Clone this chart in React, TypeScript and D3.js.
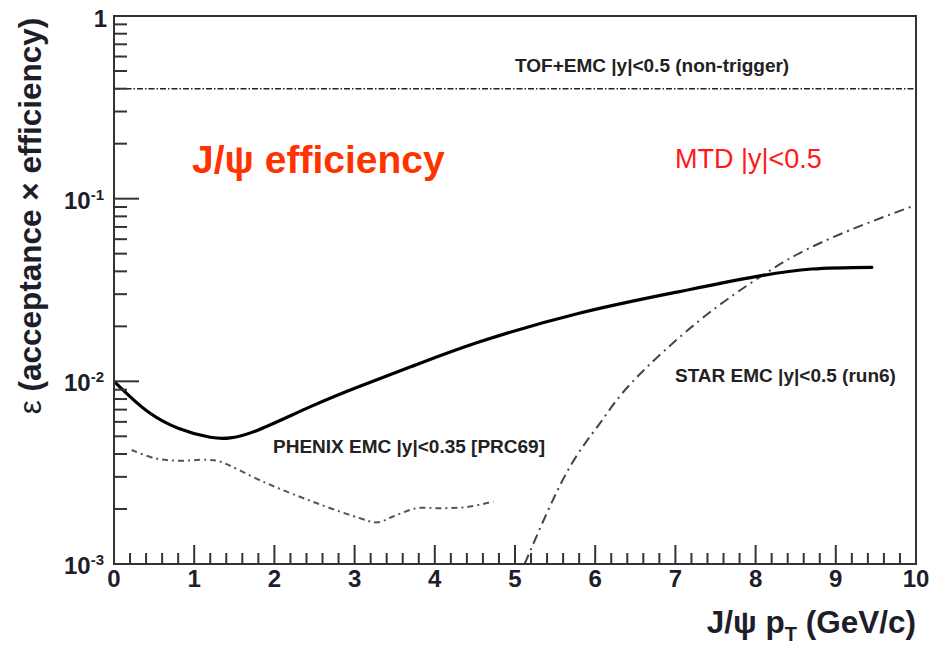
import React from "react";
import * as d3 from "d3";

// MTD |y|<0.5 efficiency vs pT
const mtdPt = [0, 0.2, 0.45, 0.8, 1.2, 1.45, 1.8, 2.45, 3.05, 3.7, 4.55, 5.8, 7.05, 8.0, 8.7, 9.45];
const mtdEff = [0.01, 0.00825, 0.00669, 0.00554, 0.00494, 0.0049, 0.00542, 0.00727, 0.00935, 0.012, 0.0164, 0.0236, 0.031, 0.0374, 0.0412, 0.0421];

// STAR EMC |y|<0.5 (run6)
const starPt = [5.12, 5.64, 6.06, 6.47, 7.31, 8.06, 8.55, 9.18, 10.0];
const starEff = [0.001, 0.00314, 0.0059, 0.01, 0.0217, 0.0374, 0.0504, 0.0674, 0.0924];

// PHENIX EMC |y|<0.35 [PRC69]
const phenixPt = [0.22, 0.5, 0.78, 1.16, 1.3, 1.9, 2.53, 3.07, 3.28, 3.48, 3.77, 4.06, 4.4, 4.73];
const phenixEff = [0.00421, 0.0038, 0.00368, 0.00372, 0.00366, 0.00277, 0.00215, 0.00178, 0.00169, 0.00182, 0.00202, 0.00202, 0.00205, 0.0022];

// TOF+EMC |y|<0.5 (non-trigger) flat level
const tofEmcLevel = 0.4;

const xTickLabels = ["0", "1", "2", "3", "4", "5", "6", "7", "8", "9", "10"];
const yDecades = [0, -1, -2, -3];

const W = 941;
const H = 649;
const left = 114;
const right = 916;
const top = 16;
const bottom = 564;
const axisColor = "#333";
const font = "'Liberation Sans', Arial, Helvetica, sans-serif";

export default function App() {
  const x = d3.scaleLinear().domain([0, 10]).range([left, right]);
  const y = d3.scaleLog().domain([0.001, 1]).range([bottom, top]);

  const smooth = d3
    .line<[number, number]>()
    .x((d) => x(d[0]))
    .y((d) => y(d[1]))
    .curve(d3.curveNatural);

  const wiggly = d3
    .line<[number, number]>()
    .x((d) => x(d[0]))
    .y((d) => y(d[1]))
    .curve(d3.curveCatmullRom.alpha(0.5));

  const zip = (a: number[], b: number[]) => a.map((v, i) => [v, b[i]] as [number, number]);

  // x ticks every 0.2, major at integers
  const xTicks = d3.range(0, 50).map((i) => i * 0.2);
  // y ticks: majors at decades, minors at 2..9
  const yMinor: number[] = [];
  [-3, -2, -1].forEach((d) => {
    for (let k = 2; k <= 9; k++) yMinor.push(k * Math.pow(10, d));
  });

  return (
    <svg
      width={W}
      height={H}
      style={{ position: "absolute", left: 0, top: 0, background: "#fff" }}
      fontFamily={font}
    >
      <defs>
        <clipPath id="plot-area">
          <rect x={left} y={top} width={right - left} height={bottom - top} />
        </clipPath>
      </defs>
      <rect width={W} height={H} fill="#fff" />

      {/* curves */}
      <g clipPath="url(#plot-area)" fill="none">
        <line
          x1={x(0)}
          x2={x(10)}
          y1={y(tofEmcLevel)}
          y2={y(tofEmcLevel)}
          stroke="#222"
          strokeWidth={1.6}
          strokeDasharray="6,2,1.5,2"
        />
        <path d={wiggly(zip(phenixPt, phenixEff)) || ""} stroke="#555" strokeWidth={2} strokeDasharray="6,4,2,4" />
        <path d={smooth(zip(starPt, starEff)) || ""} stroke="#444" strokeWidth={2} strokeDasharray="10,5,2,5" />
        <path d={smooth(zip(mtdPt, mtdEff)) || ""} stroke="#000" strokeWidth={3.2} strokeLinecap="round" />
      </g>

      {/* frame */}
      <rect x={left} y={top} width={right - left} height={bottom - top} fill="none" stroke={axisColor} strokeWidth={2} />

      {/* x ticks */}
      {xTicks.map((t, i) => {
        const major = i % 5 === 0;
        return (
          <line
            key={"xt" + i}
            x1={x(t)}
            x2={x(t)}
            y1={bottom}
            y2={bottom - (major ? 19 : 11)}
            stroke={axisColor}
            strokeWidth={2}
          />
        );
      })}
      {xTickLabels.map((lab, i) => (
        <text
          key={"xl" + i}
          x={x(i)}
          y={587}
          textAnchor="middle"
          fontSize={24}
          fontWeight="bold"
          fill="#1e1e2a"
        >
          {lab}
        </text>
      ))}

      {/* y ticks */}
      {yDecades.map((d) => (
        <line
          key={"yM" + d}
          x1={left}
          x2={left + 25}
          y1={y(Math.pow(10, d))}
          y2={y(Math.pow(10, d))}
          stroke={axisColor}
          strokeWidth={2}
        />
      ))}
      {yMinor.map((v, i) => (
        <line key={"ym" + i} x1={left} x2={left + 13} y1={y(v)} y2={y(v)} stroke={axisColor} strokeWidth={2} />
      ))}
      {yDecades.map((d) =>
        d === 0 ? (
          <text key={"yl" + d} x={107} y={y(1) + 11} textAnchor="end" fontSize={24} fontWeight="bold" fill="#1e1e2a">
            1
          </text>
        ) : (
          <text key={"yl" + d} x={104} y={y(Math.pow(10, d)) + 10} textAnchor="end" fontSize={24} fontWeight="bold" fill="#1e1e2a">
            10
            <tspan fontSize={15} dy={-9}>
              {String(d)}
            </tspan>
          </text>
        )
      )}

      {/* axis titles */}
      <text x={916} y={633} textAnchor="end" fontSize={31.5} fontWeight="bold" fill="#1e1e2a">
        J/ψ p
        <tspan fontSize={20} dy={8}>T</tspan>
        <tspan dy={-8}> (GeV/c)</tspan>
      </text>
      <text
        transform="translate(41,216) rotate(-90)"
        textAnchor="middle"
        fontSize={31.5}
        fontWeight="bold"
        fill="#1e1e2a"
      >
        <tspan fontWeight="normal">ε</tspan> (acceptance × efficiency)
      </text>

      {/* annotations */}
      <text x={192} y={173} fontSize={39} fontWeight="bold" fill="#ff3300">
        J/ψ efficiency
      </text>
      <text x={675} y={168} fontSize={27} fill="#ff1a1a">
        MTD |y|&lt;0.5
      </text>
      <text x={515} y={72} fontSize={19} fontWeight="bold" fill="#222">
        TOF+EMC |y|&lt;0.5 (non-trigger)
      </text>
      <text x={675} y={382} fontSize={19} fontWeight="bold" fill="#222">
        STAR EMC |y|&lt;0.5 (run6)
      </text>
      <text x={273} y={453} fontSize={19} fontWeight="bold" fill="#222">
        PHENIX EMC |y|&lt;0.35 [PRC69]
      </text>
    </svg>
  );
}
